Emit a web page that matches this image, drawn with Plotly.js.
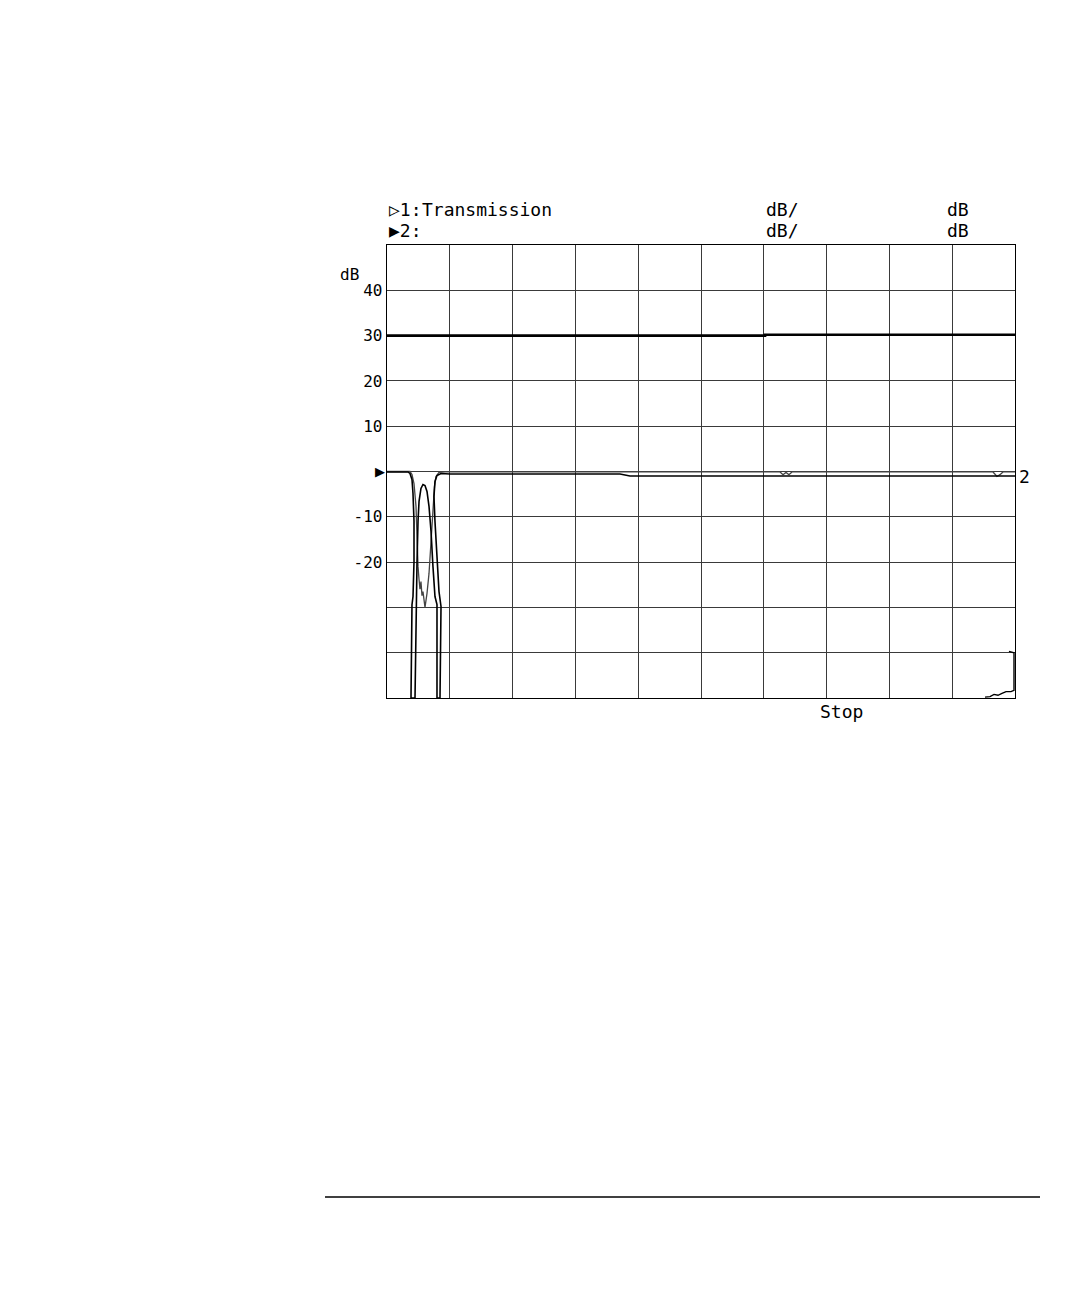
<!DOCTYPE html>
<html>
<head>
<meta charset="utf-8">
<script src="https://cdn.plot.ly/plotly-3.0.1.min.js"></script>
<style>
  html, body { margin: 0; padding: 0; background: #fff; }
  #chart { width: 1084px; height: 1298px; }
</style>
</head>
<body>
<div id="chart"></div>
<script>
// x in graticule divisions (0 = start, 10 = stop), y in dB
const transX = [0, 0.366, 0.398, 0.430, 0.462, 0.478, 0.494, 0.510, 0.525, 0.541, 0.557, 0.573, 0.605,
    0.637, 0.669, 0.701, 0.732, 0.756, 0.780, 0.828, 0.924, 6.258, 6.306, 6.354, 6.401, 6.449,
    9.650, 9.713, 9.761, 9.809, 10];
const transY = [0, 0, -0.66, -2.65, -7.7, -15.5, -21.0, -23.8, -26.0, -24.3, -27.4, -26.5, -30.0,
    -26.9, -22.5, -15.5, -7.7, -3.3, -1.1, -0.2, -0.1, -0.1, -0.7, -0.2, -0.7, -0.1,
    -0.1, -1.1, -0.7, -0.1, -0.1];

const notchX = [0, 0.334, 0.366, 0.398, 0.414, 0.430, 0.430, 0.414, 0.398, 0.382,
    0.446, 0.462, 0.478, 0.494, 0.510, 0.541, 0.573, 0.605, 0.637, 0.669, 0.701, 0.732, 0.764, 0.796, 0.796,
    0.844, 0.860, 0.828, 0.796, 0.764, 0.748, 0.764, 0.796, 0.860, 1.003, 3.710, 3.869, 4.029, 10];
const notchY = [-0.1, -0.1, -0.44, -1.77, -4.86, -11.0, -19.9, -27.6, -29.4, -50,
    -50, -28.7, -19.9, -11.0, -6.6, -3.75, -2.87, -3.1, -4.4, -7.7, -13.2, -21.0, -27.6, -29.4, -50,
    -50, -29.8, -26.5, -19.9, -11.0, -5.5, -2.2, -0.9, -0.44, -0.55, -0.55, -1.0, -1.0, -1.0];

const refX = [0, 6.02, 6.02, 10];
const refY = [30, 30, 30.2, 30.2];

const tailX = [9.522, 9.602, 9.666, 9.729, 9.793, 9.857, 9.936, 9.984, 9.984, 9.904];
const tailY = [-49.8, -49.7, -49.2, -49.4, -49.0, -48.6, -48.6, -48.3, -40.0, -39.7];

const yTicks = [-50, -40, -30, -20, -10, 0, 10, 20, 30, 40, 50];
const yTickText = ['', '', '', '-20', '-10', '', '10', '20', '30', '40', ''];

const mono = 'DejaVu Sans Mono';

const traces = [
    { x: refX, y: refY, mode: 'lines', line: { color: '#000', width: 2.6 }, hoverinfo: 'skip' },
    { x: transX, y: transY, mode: 'lines', line: { color: '#444', width: 1.3 }, name: 'Transmission' },
    { x: notchX, y: notchY, mode: 'lines', line: { color: '#000', width: 1.6 }, name: '2' },
    { x: tailX, y: tailY, mode: 'lines', line: { color: '#000', width: 1.4 }, hoverinfo: 'skip' }
];

function label(text, x, y, extra) {
    return Object.assign({
        text: text, x: x, y: y, xref: 'paper', yref: 'paper',
        xanchor: 'left', yanchor: 'middle', showarrow: false,
        font: { family: mono, size: 18, color: '#000' }
    }, extra || {});
}

const layout = {
    width: 1084,
    height: 1298,
    margin: { l: 387, r: 69, t: 245, b: 600 },
    paper_bgcolor: '#fff',
    plot_bgcolor: '#fff',
    showlegend: false,
    xaxis: {
        range: [0, 10],
        dtick: 1,
        showticklabels: false,
        showgrid: true,
        gridcolor: '#3a3a3a',
        gridwidth: 1,
        zeroline: false,
        showline: true,
        mirror: true,
        linecolor: '#000',
        linewidth: 1.3,
        ticks: ''
    },
    yaxis: {
        range: [-50, 50],
        tickmode: 'array',
        tickvals: yTicks,
        ticktext: yTickText,
        showgrid: true,
        gridcolor: '#3a3a3a',
        gridwidth: 1,
        zeroline: false,
        showline: true,
        mirror: true,
        linecolor: '#000',
        linewidth: 1.3,
        ticks: '',
        tickfont: { family: mono, size: 16, color: '#000' }
    },
    annotations: [
        label('\u25B71:', 0, 1.0773),
        label('Transmission', 0.0525, 1.0773),
        label('\u25B62:', 0, 1.0331),
        label('dB/', 0.6003, 1.0773),
        label('dB/', 0.6003, 1.0331),
        label('dB', 0.8885, 1.0773),
        label('dB', 0.8885, 1.0331),
        label('dB', -0.078, 0.9338, { font: { family: mono, size: 16, color: '#000' } }),
        label('Stop', 0.6863, -0.0309),
        label('2', 1.0032, 0.490),
        { text: '\u25B6', x: 0, y: 0, xref: 'paper', yref: 'y', xanchor: 'right', yanchor: 'middle',
          showarrow: false, font: { family: 'DejaVu Sans', size: 13, color: '#000' } }
    ],
    shapes: [
        { type: 'line', xref: 'paper', yref: 'paper', x0: -0.0987, x1: 1.0398, y0: -1.1015, y1: -1.1015,
          line: { color: '#000', width: 1.5 } }
    ]
};

Plotly.newPlot('chart', traces, layout, { staticPlot: true });
</script>
</body>
</html>
